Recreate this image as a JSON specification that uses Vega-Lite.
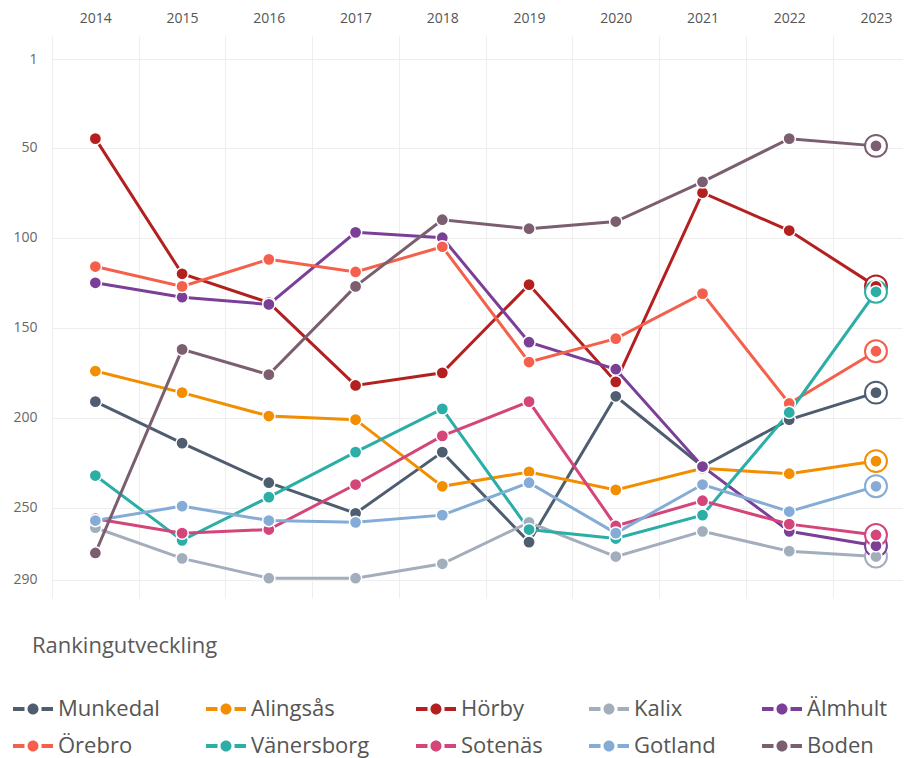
{
  "$schema": "https://vega.github.io/schema/vega-lite/v6.json",
  "autosize": {"type": "none"},
  "padding": {"left": 52, "top": 36, "right": 4, "bottom": 160},
  "width": 850,
  "height": 562,
  "background": "white",
  "config": {
    "font": "Open Sans",
    "view": {"stroke": null},
    "axis": {"domain": false, "ticks": false, "labelColor": "#666", "labelFontSize": 14, "gridColor": "#eeeeee", "gridWidth": 1, "title": null}
  },
  "title": {"text": "Rankingutveckling", "orient": "top", "anchor": "start", "frame": "group", "dx": -20, "dy": 651, "fontSize": 22, "fontWeight": "normal", "color": "#5a5a5a", "font": "Open Sans"},
  "data": {"values": [
    {"kommun":"Munkedal","year":2014,"rank":191},{"kommun":"Munkedal","year":2015,"rank":214},{"kommun":"Munkedal","year":2016,"rank":236},{"kommun":"Munkedal","year":2017,"rank":253},{"kommun":"Munkedal","year":2018,"rank":219},{"kommun":"Munkedal","year":2019,"rank":269},{"kommun":"Munkedal","year":2020,"rank":188},{"kommun":"Munkedal","year":2021,"rank":227},{"kommun":"Munkedal","year":2022,"rank":201},{"kommun":"Munkedal","year":2023,"rank":186},
    {"kommun":"Alingsås","year":2014,"rank":174},{"kommun":"Alingsås","year":2015,"rank":186},{"kommun":"Alingsås","year":2016,"rank":199},{"kommun":"Alingsås","year":2017,"rank":201},{"kommun":"Alingsås","year":2018,"rank":238},{"kommun":"Alingsås","year":2019,"rank":230},{"kommun":"Alingsås","year":2020,"rank":240},{"kommun":"Alingsås","year":2021,"rank":228},{"kommun":"Alingsås","year":2022,"rank":231},{"kommun":"Alingsås","year":2023,"rank":224},
    {"kommun":"Hörby","year":2014,"rank":45},{"kommun":"Hörby","year":2015,"rank":120},{"kommun":"Hörby","year":2016,"rank":136},{"kommun":"Hörby","year":2017,"rank":182},{"kommun":"Hörby","year":2018,"rank":175},{"kommun":"Hörby","year":2019,"rank":126},{"kommun":"Hörby","year":2020,"rank":180},{"kommun":"Hörby","year":2021,"rank":75},{"kommun":"Hörby","year":2022,"rank":96},{"kommun":"Hörby","year":2023,"rank":127},
    {"kommun":"Kalix","year":2014,"rank":261},{"kommun":"Kalix","year":2015,"rank":278},{"kommun":"Kalix","year":2016,"rank":289},{"kommun":"Kalix","year":2017,"rank":289},{"kommun":"Kalix","year":2018,"rank":281},{"kommun":"Kalix","year":2019,"rank":258},{"kommun":"Kalix","year":2020,"rank":277},{"kommun":"Kalix","year":2021,"rank":263},{"kommun":"Kalix","year":2022,"rank":274},{"kommun":"Kalix","year":2023,"rank":277},
    {"kommun":"Älmhult","year":2014,"rank":125},{"kommun":"Älmhult","year":2015,"rank":133},{"kommun":"Älmhult","year":2016,"rank":137},{"kommun":"Älmhult","year":2017,"rank":97},{"kommun":"Älmhult","year":2018,"rank":100},{"kommun":"Älmhult","year":2019,"rank":158},{"kommun":"Älmhult","year":2020,"rank":173},{"kommun":"Älmhult","year":2021,"rank":227},{"kommun":"Älmhult","year":2022,"rank":263},{"kommun":"Älmhult","year":2023,"rank":271},
    {"kommun":"Örebro","year":2014,"rank":116},{"kommun":"Örebro","year":2015,"rank":127},{"kommun":"Örebro","year":2016,"rank":112},{"kommun":"Örebro","year":2017,"rank":119},{"kommun":"Örebro","year":2018,"rank":105},{"kommun":"Örebro","year":2019,"rank":169},{"kommun":"Örebro","year":2020,"rank":156},{"kommun":"Örebro","year":2021,"rank":131},{"kommun":"Örebro","year":2022,"rank":192},{"kommun":"Örebro","year":2023,"rank":163},
    {"kommun":"Vänersborg","year":2014,"rank":232},{"kommun":"Vänersborg","year":2015,"rank":268},{"kommun":"Vänersborg","year":2016,"rank":244},{"kommun":"Vänersborg","year":2017,"rank":219},{"kommun":"Vänersborg","year":2018,"rank":195},{"kommun":"Vänersborg","year":2019,"rank":262},{"kommun":"Vänersborg","year":2020,"rank":267},{"kommun":"Vänersborg","year":2021,"rank":254},{"kommun":"Vänersborg","year":2022,"rank":197},{"kommun":"Vänersborg","year":2023,"rank":130},
    {"kommun":"Sotenäs","year":2014,"rank":256},{"kommun":"Sotenäs","year":2015,"rank":264},{"kommun":"Sotenäs","year":2016,"rank":262},{"kommun":"Sotenäs","year":2017,"rank":237},{"kommun":"Sotenäs","year":2018,"rank":210},{"kommun":"Sotenäs","year":2019,"rank":191},{"kommun":"Sotenäs","year":2020,"rank":260},{"kommun":"Sotenäs","year":2021,"rank":246},{"kommun":"Sotenäs","year":2022,"rank":259},{"kommun":"Sotenäs","year":2023,"rank":265},
    {"kommun":"Gotland","year":2014,"rank":257},{"kommun":"Gotland","year":2015,"rank":249},{"kommun":"Gotland","year":2016,"rank":257},{"kommun":"Gotland","year":2017,"rank":258},{"kommun":"Gotland","year":2018,"rank":254},{"kommun":"Gotland","year":2019,"rank":236},{"kommun":"Gotland","year":2020,"rank":264},{"kommun":"Gotland","year":2021,"rank":237},{"kommun":"Gotland","year":2022,"rank":252},{"kommun":"Gotland","year":2023,"rank":238},
    {"kommun":"Boden","year":2014,"rank":275},{"kommun":"Boden","year":2015,"rank":162},{"kommun":"Boden","year":2016,"rank":176},{"kommun":"Boden","year":2017,"rank":127},{"kommun":"Boden","year":2018,"rank":90},{"kommun":"Boden","year":2019,"rank":95},{"kommun":"Boden","year":2020,"rank":91},{"kommun":"Boden","year":2021,"rank":69},{"kommun":"Boden","year":2022,"rank":45},{"kommun":"Boden","year":2023,"rank":49}
  ]},
  "encoding": {
    "x": {"field": "year", "type": "quantitative",
      "scale": {"domain": [2013.5, 2023.3], "nice": false, "zero": false},
      "axis": {"orient": "top", "values": [2013.5,2014,2014.5,2015,2015.5,2016,2016.5,2017,2017.5,2018,2018.5,2019,2019.5,2020,2020.5,2021,2021.5,2022,2022.5,2023],
        "labelExpr": "datum.value % 1 === 0 ? datum.value : ''", "labelPadding": 11, "labelColor": "#555",
        "gridOpacity": {"condition": {"test": "datum.value % 1 === 0", "value": 0}, "value": 1}}},
    "y": {"field": "rank", "type": "quantitative",
      "scale": {"domain": [-12, 300], "reverse": true, "nice": false, "zero": false},
      "axis": {"values": [1, 50, 100, 150, 200, 250, 290], "labelPadding": 15}},
    "color": {"field": "kommun", "type": "nominal",
      "scale": {"domain": ["Munkedal","Alingsås","Hörby","Kalix","Älmhult","Örebro","Vänersborg","Sotenäs","Gotland","Boden"],
        "range": ["#4f5d70","#f28e00","#b3201f","#a3aebd","#7b3f98","#f5604c","#2aaea6","#d4457a","#85acd7","#7b5e6f"]},
      "legend": {"orient": "none", "legendX": -20, "legendY": 662, "direction": "horizontal", "columns": 5,
        "title": null, "labelFontSize": 22, "labelColor": "#555", "labelFont": "Open Sans",
        "symbolType": "M-2,-0.2H-0.85V0.2H-2Z M0.85,-0.2H2V0.2H0.85Z M0.55,0A0.55,0.55 0 1,1 -0.55,0A0.55,0.55 0 1,1 0.55,0Z",
        "symbolSize": 400, "symbolStrokeWidth": 0, "symbolOffset": -10, "labelOffset": 14,
        "columnPadding": 46, "rowPadding": 15,
        "encode": {"symbols": {"update": {"fill": {"scale": "color", "field": "value"}, "fillOpacity": {"value": 1}, "stroke": {"value": "transparent"}, "strokeWidth": {"value": 0}, "opacity": {"value": 1}}}}}}
  },
  "layer": [
    {"mark": {"type": "line", "strokeWidth": 3}},
    {"mark": {"type": "point", "filled": false, "size": 480, "fill": "white", "fillOpacity": 1, "strokeWidth": 2, "opacity": 1},
      "transform": [{"filter": "datum.year == 2023"}]},
    {"mark": {"type": "point", "filled": true, "size": 150, "stroke": "white", "strokeWidth": 1.5, "opacity": 1}}
  ]
}
